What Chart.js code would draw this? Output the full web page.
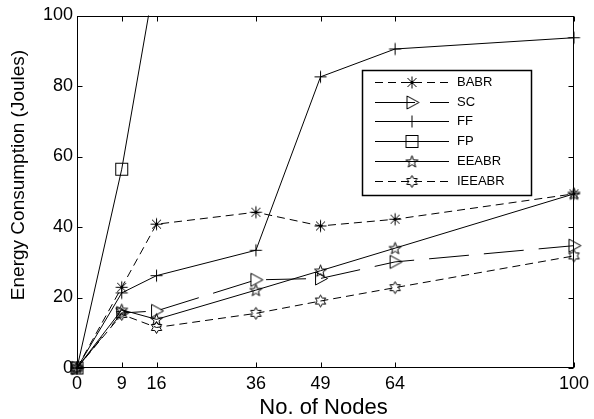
<!DOCTYPE html>
<html><head><meta charset="utf-8">
<script src="https://cdn.jsdelivr.net/npm/chart.js@4"></script>
<style>html,body{margin:0;padding:0;background:#fff}#wrap{width:594px;height:419px}</style>
</head><body><div id="wrap"><canvas id="c" width="594" height="419"></canvas></div>
<script>
// ---- data ----
const nodes = [0, 9, 16, 36, 49, 64, 100];
const yTicks = [0, 20, 40, 60, 80, 100];
const seriesNames = ['BABR', 'SC', 'FF', 'FP', 'EEABR', 'IEEABR'];
const babr   = [0, 22.9, 40.8, 44.2, 40.3, 42.2, 49.4];
const sc     = [0, 15.6, 16.2, 25.0, 25.4, 30.1, 34.7];
const ff     = [0, 21.3, 26.2, 33.4, 82.6, 90.5, 93.7];
const fp     = [0, 56.4, 113, null, null, null, null];
const eeabr  = [0, 16.5, 13.8, 22.1, 27.6, 34.0, 49.4];
const ieeabr = [0, 15.2, 11.5, 15.5, 19.0, 22.8, 31.8];
const xTitle = 'No. of Nodes';
const yTitle = 'Energy Consumption (Joules)';

const FONT = '"Liberation Sans", Arial, sans-serif';

// ---- marker images ----
function marker(drawFn) {
  const c = document.createElement('canvas');
  c.width = 17; c.height = 17;
  const g = c.getContext('2d');
  g.strokeStyle = '#000'; g.lineWidth = 1; g.lineJoin = 'miter';
  drawFn(g, 8.5, 8.5);
  return c;
}
function starPath(g, cx, cy, n, R, r) {
  g.beginPath();
  for (let i = 0; i < 2 * n; i++) {
    const a = -Math.PI / 2 + i * Math.PI / n;
    const rr = i % 2 === 0 ? R : r;
    const px = cx + rr * Math.cos(a), py = cy + rr * Math.sin(a);
    if (i === 0) g.moveTo(px, py); else g.lineTo(px, py);
  }
  g.closePath(); g.stroke();
}
const mAsterisk = marker((g, x, y) => {
  g.beginPath();
  g.moveTo(x, y - 6); g.lineTo(x, y + 6);
  g.moveTo(x - 6, y); g.lineTo(x + 6, y);
  g.moveTo(x - 4.5, y - 4.5); g.lineTo(x + 4.5, y + 4.5);
  g.moveTo(x - 4.5, y + 4.5); g.lineTo(x + 4.5, y - 4.5);
  g.stroke();
});
const mTriangle = marker((g, x, y) => {
  g.beginPath();
  g.moveTo(x - 5, y - 6.5); g.lineTo(x + 7, y); g.lineTo(x - 5, y + 6.5); g.closePath();
  g.stroke();
});
const mPlus = marker((g, x, y) => {
  g.beginPath();
  g.moveTo(x, y - 6); g.lineTo(x, y + 6);
  g.moveTo(x - 6, y); g.lineTo(x + 6, y);
  g.stroke();
});
const mSquare = marker((g, x, y) => { g.strokeRect(x - 6, y - 6, 12, 12); });
const mPenta = marker((g, x, y) => starPath(g, x, y + 0.5, 5, 6.3, 2.6));
const mHexa = marker((g, x, y) => starPath(g, x, y, 6, 6, 3.4));

const seriesValues = [babr, sc, ff, fp, eeabr, ieeabr];
const seriesMarkers = [mAsterisk, mTriangle, mPlus, mSquare, mPenta, mHexa];
const seriesDash = [[8, 5], [40, 15], [], [], [], [8, 5]];

const datasets = seriesNames.map((name, k) => ({
  label: name,
  data: nodes.map((x, i) => ({ x: x, y: seriesValues[k][i] })),
  borderColor: '#000',
  backgroundColor: 'rgba(0,0,0,0)',
  borderWidth: 1,
  borderDash: seriesDash[k],
  pointStyle: seriesMarkers[k],
  pointRadius: 6,
  pointHoverRadius: 6,
  tension: 0,
  spanGaps: false,
  clip: name === 'FP' ? { left: 10, right: 10, bottom: 10, top: 0 } : 10
}));

const framePlugin = {
  id: 'frame',
  afterDraw(chart) {
    const ctx = chart.ctx;
    const { left, right, top, bottom } = chart.chartArea;
    const xs = chart.scales.x, ys = chart.scales.y;
    ctx.save();
    ctx.strokeStyle = '#000';
    ctx.lineWidth = 1;
    const L = Math.round(left) + 0.5, R = Math.round(right) - 0.5;
    const T = Math.round(top) + 0.5, B = Math.round(bottom) - 0.5;
    ctx.strokeRect(L, T, R - L, B - T);
    ctx.beginPath();
    nodes.forEach(v => {
      const px = Math.round(xs.getPixelForValue(v)) + 0.5;
      ctx.moveTo(px, B); ctx.lineTo(px, B - 5);
      ctx.moveTo(px, T); ctx.lineTo(px, T + 5);
    });
    yTicks.forEach(v => {
      const py = Math.round(ys.getPixelForValue(v)) + 0.5;
      ctx.moveTo(L, py); ctx.lineTo(L + 5, py);
      ctx.moveTo(R, py); ctx.lineTo(R - 5, py);
    });
    ctx.stroke();

    // axis titles
    ctx.fillStyle = '#000';
    ctx.textAlign = 'center';
    ctx.textBaseline = 'middle';
    ctx.font = '22px ' + FONT;
    ctx.fillText(xTitle, (left + right) / 2 - 2, 408);
    ctx.save();
    ctx.translate(19, 175);
    ctx.rotate(-Math.PI / 2);
    ctx.font = '19px ' + FONT;
    ctx.fillText(yTitle, 0, 0);
    ctx.restore();

    // legend
    const bx = 362.5, by = 70.5, bw = 169, bh = 125;
    ctx.fillStyle = '#fff';
    ctx.fillRect(bx, by, bw, bh);
    ctx.lineWidth = 1.5;
    ctx.strokeRect(bx, by, bw, bh);
    ctx.lineWidth = 1;
    ctx.font = '13px ' + FONT;
    ctx.textAlign = 'left';
    chart.data.datasets.forEach((ds, i) => {
      const yy = Math.round(81.7 + i * 19.85) + 0.5;
      ctx.setLineDash(ds.borderDash || []);
      ctx.beginPath();
      ctx.moveTo(375, yy); ctx.lineTo(449, yy);
      ctx.stroke();
      ctx.setLineDash([]);
      const img = ds.pointStyle;
      ctx.drawImage(img, 412 - img.width / 2, yy - img.height / 2);
      ctx.fillStyle = '#000';
      ctx.fillText(ds.label, 457, yy);
    });
    ctx.restore();
  }
};

new Chart(document.getElementById('c'), {
  type: 'line',
  data: { datasets: datasets },
  options: {
    responsive: false,
    animation: false,
    devicePixelRatio: 1,
    events: [],
    layout: { padding: { left: 0, right: 17, top: 15.5, bottom: 0 } },
    plugins: { legend: { display: false }, tooltip: { enabled: false }, title: { display: false } },
    scales: {
      x: {
        type: 'linear', min: 0, max: 100,
        afterBuildTicks: s => { s.ticks = nodes.map(v => ({ value: v })); },
        afterFit: s => { s.height = 51; },
        grid: { display: false, drawTicks: false },
        border: { display: false },
        ticks: { autoSkip: false, maxRotation: 0, padding: 5, color: '#000', font: { family: FONT, size: 18 } }
      },
      y: {
        type: 'linear', min: 0, max: 100,
        afterBuildTicks: s => { s.ticks = yTicks.map(v => ({ value: v })); },
        afterFit: s => { s.width = 77; },
        grid: { display: false, drawTicks: false },
        border: { display: false },
        ticks: { padding: 4, color: '#000', font: { family: FONT, size: 18 } }
      }
    }
  },
  plugins: [framePlugin]
});
</script>
</body></html>
